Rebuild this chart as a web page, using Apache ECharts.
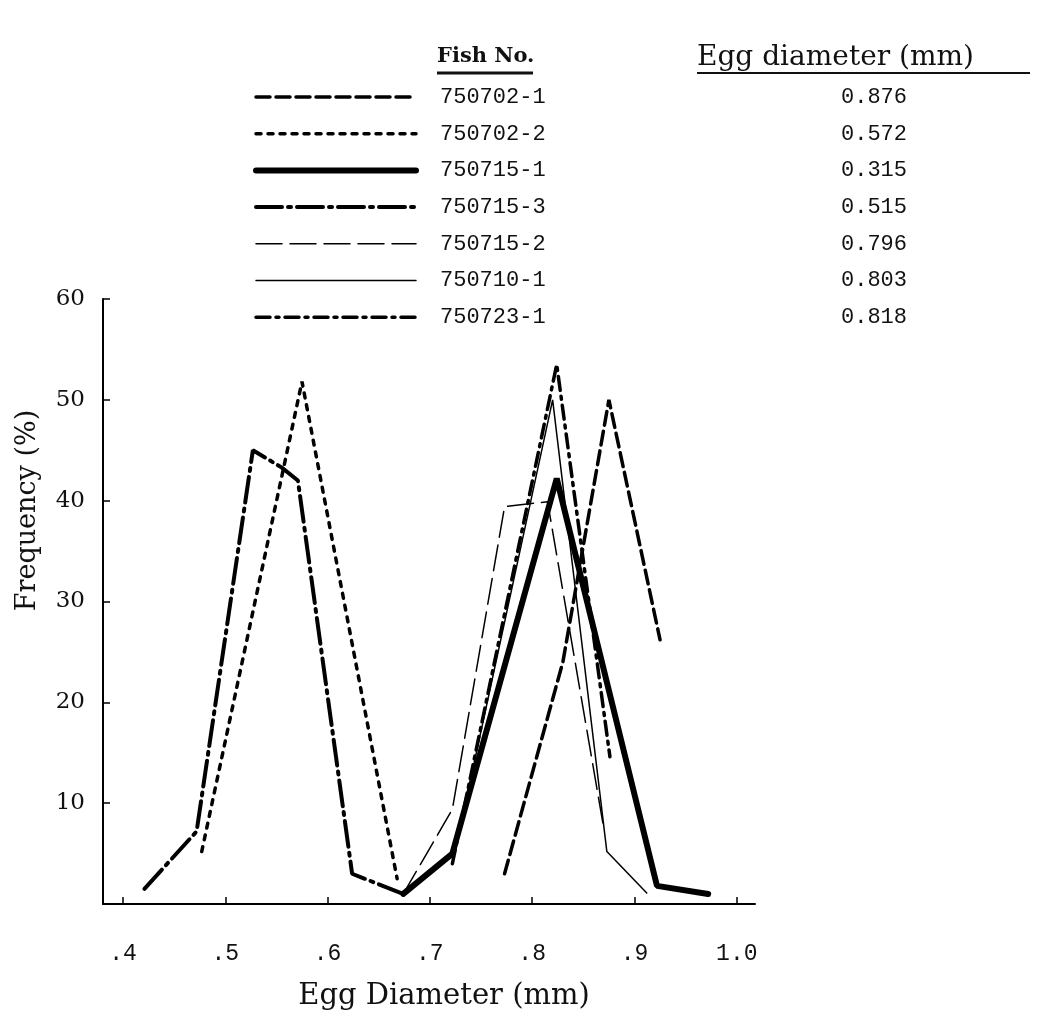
<!DOCTYPE html>
<html>
<head>
<meta charset="utf-8">
<script src="https://cdn.jsdelivr.net/npm/echarts@6/dist/echarts.min.js"></script>
<style>
  html, body { margin: 0; padding: 0; background: #fff; }
  #chart { width: 1037px; height: 1016px; }
</style>
</head>
<body>
<div id="chart"></div>
<script>
// legend entries
var fishNos = ['750702-1', '750702-2', '750715-1', '750715-3', '750715-2', '750710-1', '750723-1'];
var eggDiameters = ['0.876', '0.572', '0.315', '0.515', '0.796', '0.803', '0.818'];

// x axis tick values / labels
var xTicks = [0.4, 0.5, 0.6, 0.7, 0.8, 0.9, 1.0];
var xTickLabels = ['.4', '.5', '.6', '.7', '.8', '.9', '1.0'];

// frequency (%) by egg diameter (mm)
var f750702_1 = [[0.773, 3], [0.83, 24], [0.875, 50], [0.925, 26.2]];
var f750702_2 = [[0.477, 5.2], [0.575, 51.8], [0.668, 2.5]];
var f750715_1 = [[0.674, 1], [0.722, 5], [0.824, 42.2], [0.922, 1.8], [0.972, 1]];
var f750715_3 = [[0.421, 1.5], [0.472, 7.2], [0.527, 45], [0.555, 43.3], [0.571, 42], [0.624, 3], [0.674, 1]];
var f750715_2 = [[0.674, 1], [0.722, 9.4], [0.773, 39.4], [0.815, 39.9], [0.87, 7.5]];
var f750710_1 = [[0.722, 4], [0.82, 50], [0.873, 5.2], [0.912, 1.1]];
var f750723_1 = [[0.722, 4], [0.824, 53.5], [0.876, 14.6]];

var seriesData = [f750702_1, f750702_2, f750715_1, f750715_3, f750715_2, f750710_1, f750723_1];
var lineStyles = [
    {width: 3.5, type: [14, 6]},
    {width: 3.5, type: [5, 7]},
    {width: 6, type: 'solid'},
    {width: 4, type: [26, 6, 3, 6]},
    {width: 1.5, type: [26, 8]},
    {width: 1.5, type: 'solid'},
    {width: 3.5, type: [14, 6, 3, 6]}
];

var chart = echarts.init(document.getElementById('chart'));

var series = [];
for (var i = 0; i < fishNos.length; i++) {
    series.push({
        name: fishNos[i],
        type: 'line',
        data: seriesData[i],
        symbol: 'none',
        lineStyle: {
            color: '#000',
            width: lineStyles[i].width,
            type: lineStyles[i].type,
            cap: 'round'
        },
        itemStyle: {color: '#000'}
    });
}

var option = {
    backgroundColor: '#fff',
    animation: false,
    grid: {left: 103, right: 282, top: 299, bottom: 108},
    legend: {
        orient: 'vertical',
        left: 253,
        top: 86,
        padding: 0,
        itemWidth: 160,
        itemHeight: 14,
        itemGap: 14.7,
        selectedMode: false,
        data: fishNos,
        itemStyle: {opacity: 0, borderWidth: 0},
        lineStyle: {width: 'inherit', type: 'inherit', color: '#000'},
        formatter: function (name) {
            var k = fishNos.indexOf(name);
            return '{n|' + name + '}{v|' + eggDiameters[k] + '}';
        },
        textStyle: {
            fontFamily: 'Liberation Mono',
            fontSize: 22,
            color: '#111',
            rich: {
                n: {fontFamily: 'Liberation Mono', fontSize: 22, lineHeight: 22, width: 401, padding: [0, 0, 0, 19], color: '#111'},
                v: {fontFamily: 'Liberation Mono', fontSize: 22, lineHeight: 22, color: '#111'}
            }
        }
    },
    xAxis: {
        type: 'value',
        min: 0.3805,
        max: 1.0178,
        name: 'Egg Diameter (mm)',
        nameLocation: 'middle',
        nameGap: 78,
        nameTextStyle: {fontFamily: 'DejaVu Serif', fontSize: 29, color: '#111', padding: [0, 0, 0, 30]},
        splitLine: {show: false},
        axisLine: {lineStyle: {color: '#000', width: 2}},
        axisTick: {
            inside: true,
            length: 7,
            customValues: xTicks,
            lineStyle: {color: '#000', width: 1.5}
        },
        axisLabel: {
            customValues: xTicks,
            margin: 38,
            fontFamily: 'Liberation Mono',
            fontSize: 23,
            color: '#111',
            formatter: function (v) {
                var k = -1;
                for (var j = 0; j < xTicks.length; j++) {
                    if (Math.abs(xTicks[j] - v) < 1e-6) k = j;
                }
                return k >= 0 ? xTickLabels[k] : '';
            }
        }
    },
    yAxis: {
        type: 'value',
        min: 0,
        max: 60,
        interval: 10,
        name: 'Frequency (%)',
        nameLocation: 'middle',
        nameRotate: 90,
        nameGap: 62,
        nameTextStyle: {fontFamily: 'DejaVu Serif', fontSize: 27, color: '#111', padding: [0, 0, 0, 182]},
        splitLine: {show: false},
        axisLine: {show: true, lineStyle: {color: '#000', width: 2}},
        axisTick: {show: true, inside: true, length: 7, lineStyle: {color: '#000', width: 1.5}},
        axisLabel: {
            margin: 18,
            fontFamily: 'DejaVu Serif',
            fontSize: 23,
            color: '#111',
            formatter: function (v) { return v === 0 ? '' : String(v); }
        }
    },
    graphic: [
        {type: 'text', left: 437, top: 46, style: {text: 'Fish No.', fontFamily: 'DejaVu Serif', fontWeight: 'bold', fontSize: 21, fill: '#111'}},
        {type: 'line', shape: {x1: 437, y1: 73, x2: 533, y2: 73}, style: {stroke: '#111', lineWidth: 3}},
        {type: 'text', left: 697, top: 44, style: {text: 'Egg diameter (mm)', fontFamily: 'DejaVu Serif', fontSize: 28, fill: '#111'}},
        {type: 'line', shape: {x1: 697, y1: 73, x2: 1030, y2: 73}, style: {stroke: '#111', lineWidth: 2}}
    ],
    series: series
};

chart.setOption(option);
</script>
</body>
</html>
